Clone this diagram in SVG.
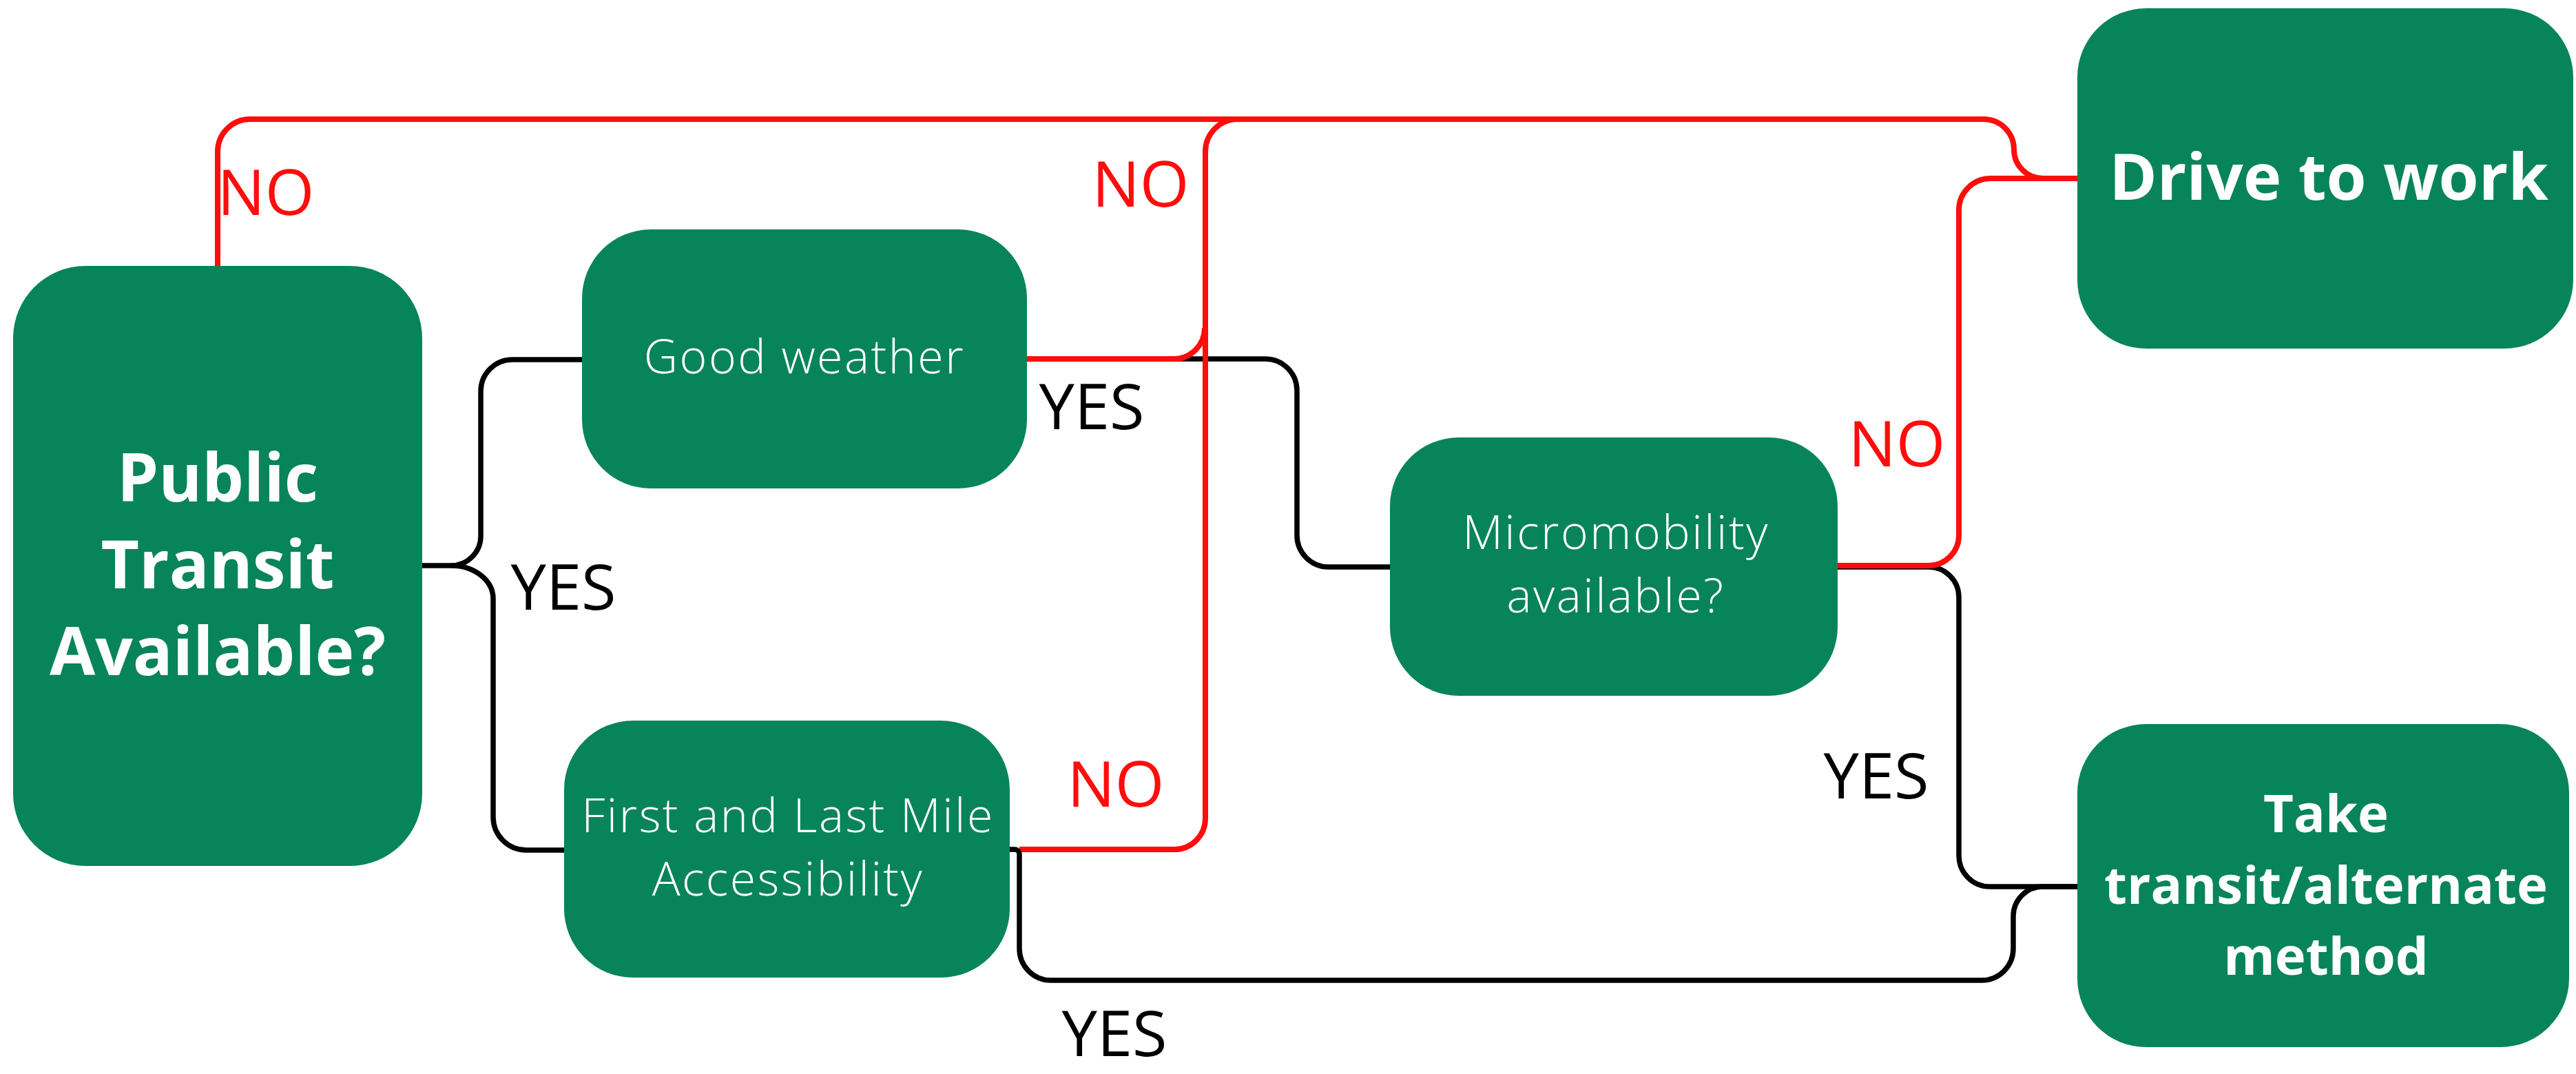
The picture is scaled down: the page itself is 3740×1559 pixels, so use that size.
<svg xmlns="http://www.w3.org/2000/svg" width="3740" height="1559" viewBox="0 0 3740 1559">
<style>
.box{fill:#08845B}
.t-bold{font-family:"Open Sans","Liberation Sans",sans-serif;font-weight:700;fill:#fff;text-anchor:middle}
.t-light{font-family:"Open Sans","Liberation Sans",sans-serif;font-weight:300;fill:#fff;text-anchor:middle;font-size:68px;letter-spacing:2.5px}
.lbl{font-family:"Open Sans","Liberation Sans",sans-serif;font-weight:400;font-size:92px;text-anchor:middle}
.no{fill:#FF0D0D}
.yes{fill:#000}
.red{fill:none;stroke:#FF0D0D;stroke-width:8}
.blk{fill:none;stroke:#000;stroke-width:7.5}
</style>
<rect width="3740" height="1559" fill="#fff"/>
<g id="connectors">
<path class="blk" d="M613,821 H655 A43,43 0 0 0 698,778 V568 A46,46 0 0 1 744,522 H845"/>
<path class="blk" d="M655,821 A61,48 0 0 1 716,869 V1186 A48,48 0 0 0 764,1234 H820"/>
<path class="blk" d="M1491,521 H1837 A46,46 0 0 1 1883,567 V777 A46,46 0 0 0 1929,823 H2018"/>
<path class="blk" d="M2668,823 H2800 A44,44 0 0 1 2844,867 V1242 A45,45 0 0 0 2889,1287 H3017"/>
<path class="red" d="M316,386 V220 A47,47 0 0 1 363,173 H2880 A44,44 0 0 1 2924,217 A42,42 0 0 0 2966,259 H3017"/>
<path class="red" d="M1491,521 H1704 A45,45 0 0 0 1749,476"/>
<path class="red" d="M1480,1233 H1705 A45,45 0 0 0 1750,1188 V220 A47,47 0 0 1 1797,173 H2880"/>
<path class="red" d="M2668,821 H2800 A44,44 0 0 0 2844,777 V305 A46,46 0 0 1 2890,259 H3017"/>
<path class="blk" d="M1466,1233 H1473 A7,7 0 0 1 1480,1240 V1377 A46,46 0 0 0 1526,1423 H2877 A46,46 0 0 0 2923,1377 V1330 A43,43 0 0 1 2966,1287 H3017"/>
</g>
<g id="labels">
<text class="lbl no" x="386" y="312">NO</text>
<text class="lbl no" x="1656" y="300">NO</text>
<text class="lbl yes" x="1585" y="623">YES</text>
<text class="lbl yes" x="818" y="885">YES</text>
<text class="lbl no" x="1620" y="1171">NO</text>
<text class="lbl yes" x="1618" y="1533">YES</text>
<text class="lbl no" x="2754" y="677">NO</text>
<text class="lbl yes" x="2724" y="1159">YES</text>
</g>
<g id="node-public-transit">
<rect class="box" x="19" y="386" width="594" height="871" rx="105"/>
<text class="t-bold" font-size="96" x="316" y="728">Public</text>
<text class="t-bold" font-size="96" x="316" y="854">Transit</text>
<text class="t-bold" font-size="96" x="316" y="980">Available?</text>
</g>
<g id="node-good-weather">
<rect class="box" x="845" y="333" width="646" height="376" rx="100"/>
<text class="t-light" x="1168" y="542">Good weather</text>
</g>
<g id="node-first-last-mile">
<rect class="box" x="819" y="1046" width="647" height="373" rx="100"/>
<text class="t-light" x="1144" y="1208">First and Last Mile</text>
<text class="t-light" x="1144" y="1300">Accessibility</text>
</g>
<g id="node-micromobility">
<rect class="box" x="2018" y="635" width="650" height="375" rx="100"/>
<text class="t-light" x="2346" y="797">Micromobility</text>
<text class="t-light" x="2346" y="889">available?</text>
</g>
<g id="node-drive">
<rect class="box" x="3016" y="12" width="720" height="494" rx="100"/>
<text class="t-bold" font-size="94" x="3381" y="290">Drive to work</text>
</g>
<g id="node-take-transit">
<rect class="box" x="3016" y="1051" width="714" height="469" rx="100"/>
<text class="t-bold" font-size="76" x="3377" y="1208">Take</text>
<text class="t-bold" font-size="76" x="3377" y="1312">transit/alternate</text>
<text class="t-bold" font-size="76" x="3377" y="1415">method</text>
</g>
</svg>
